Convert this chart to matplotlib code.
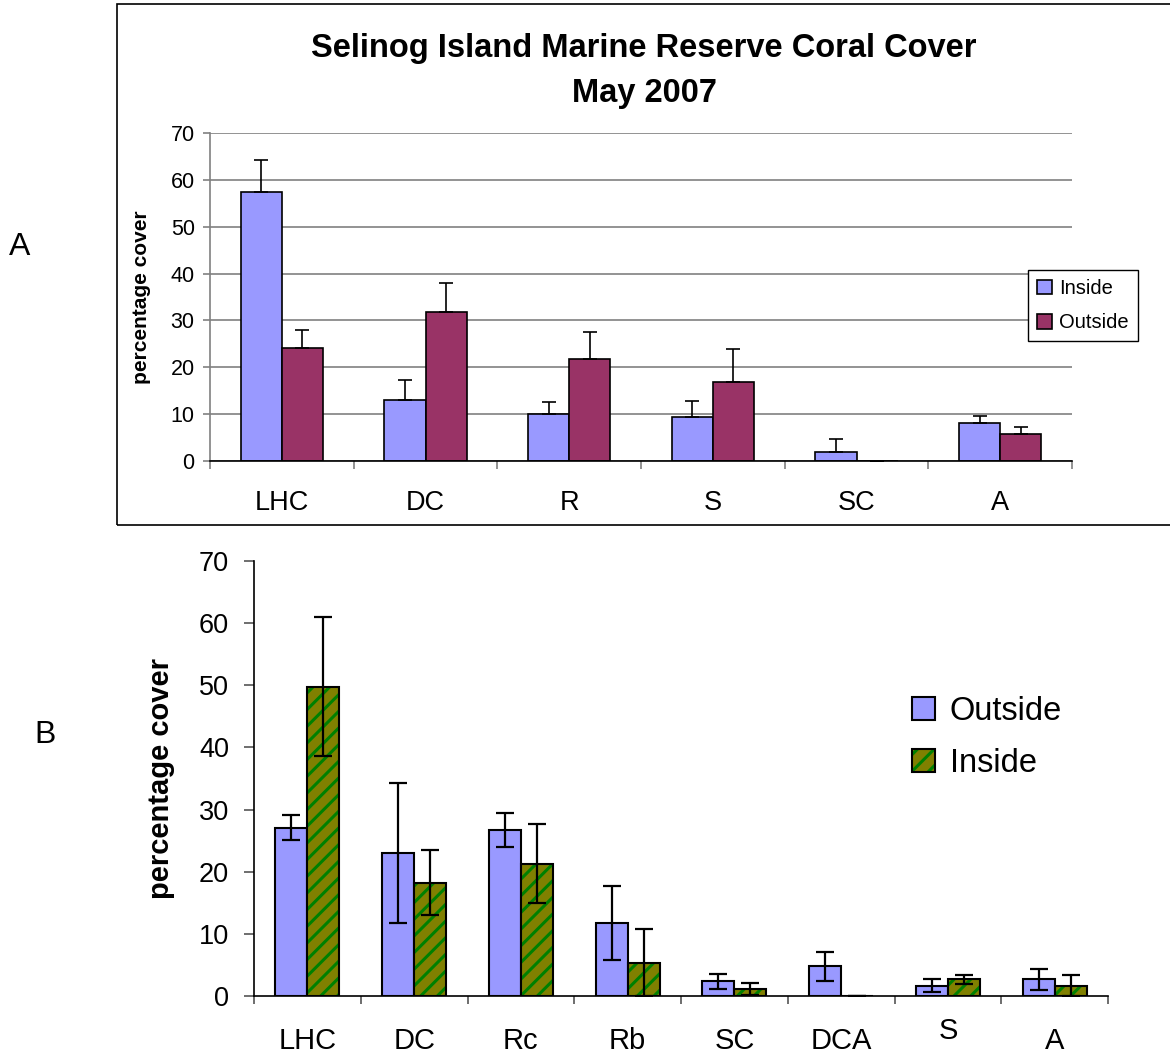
import matplotlib
matplotlib.use('Agg')
import matplotlib.pyplot as plt
from matplotlib.patches import Patch, Rectangle
from matplotlib.legend_handler import HandlerTuple
import numpy as np

plt.rcParams['font.family'] = ['Liberation Sans', 'DejaVu Sans']
plt.rcParams['hatch.linewidth'] = 2.2

# panel A data
cats_a = ['LHC', 'DC', 'R', 'S', 'SC', 'A']
inside_a = [57.5, 13.1, 10.0, 9.3, 1.85, 8.2]
inside_a_err = [6.8, 4.1, 2.5, 3.6, 2.8, 1.5]
outside_a = [24.2, 31.8, 21.8, 16.8, 0.0, 5.75]
outside_a_err = [3.7, 6.1, 5.8, 7.2, 0.0, 1.4]

# panel B data
cats_b = ['LHC', 'DC', 'Rc', 'Rb', 'SC', 'DCA', 'S', 'A']
outside_b = [27.1, 23.0, 26.75, 11.8, 2.4, 4.75, 1.66, 2.67]
outside_b_err = [2.0, 11.2, 2.7, 5.95, 1.2, 2.35, 1.0, 1.7]
inside_b = [49.8, 18.25, 21.3, 5.35, 1.07, 0.0, 2.67, 1.66]
inside_b_err = [11.2, 5.25, 6.4, 5.4, 0.95, 0.0, 0.7, 1.7]

yticks = [0, 10, 20, 30, 40, 50, 60, 70]

W, H = 1170, 1055
fig = plt.figure(figsize=(W / 100, H / 100), dpi=100)

# frame round panel A
fig.patches.append(Rectangle((117 / W, 1 - 525 / H), 1060 / W, 521 / H,
                             transform=fig.transFigure, fill=False,
                             edgecolor='black', linewidth=1.2))

fig.text(644 / W, 1 - 71 / H, 'Selinog Island Marine Reserve Coral Cover\nMay 2007',
         ha='center', va='center', fontsize=23.5, fontweight='bold', linespacing=1.55)
fig.text(20 / W, 1 - 247 / H, 'A', ha='center', va='center', fontsize=23)
fig.text(45 / W, 1 - 735 / H, 'B', ha='center', va='center', fontsize=23)

# ---- panel A
ax1 = fig.add_axes([210 / W, 1 - 461 / H, 862 / W, 328 / H])
xa = np.arange(len(cats_a))
wa = 1 / 3.5
ax1.bar(xa - wa / 2, inside_a, wa, color='#9999FF', edgecolor='black', linewidth=1.2, zorder=2,
        label='Inside')
ax1.bar(xa + wa / 2, outside_a, wa, color='#993366', edgecolor='black', linewidth=1.2, zorder=2,
        label='Outside')
ax1.errorbar(xa - wa / 2, inside_a, yerr=[np.zeros(len(xa)), inside_a_err], fmt='none',
             ecolor='black', elinewidth=1.2, capsize=4.7, capthick=1.2, zorder=3)
ax1.errorbar(xa + wa / 2, outside_a, yerr=[np.zeros(len(xa)), outside_a_err], fmt='none',
             ecolor='black', elinewidth=1.2, capsize=4.7, capthick=1.2, zorder=3)
ax1.set_xlim(-0.5, len(cats_a) - 0.5)
ax1.set_ylim(0, 70)
ax1.set_yticks(yticks)
ax1.yaxis.grid(True, color='#808080', linewidth=1.2, zorder=0)
ax1.set_axisbelow(True)
ax1.set_xticks(np.arange(len(cats_a) + 1) - 0.5)
ax1.set_xticklabels([''] * (len(cats_a) + 1))
ax1.set_xticks(xa, minor=True)
ax1.set_xticklabels(cats_a, minor=True, fontsize=19.5)
ax1.tick_params(axis='x', which='major', length=6, width=1.2, color='#808080')
ax1.tick_params(axis='x', which='minor', length=0, pad=21)
ax1.tick_params(axis='y', length=5, width=1.2, color='#808080', labelsize=15.5, pad=6)
for s in ['top', 'right']:
    ax1.spines[s].set_visible(False)
ax1.spines['left'].set_color('#808080')
ax1.spines['left'].set_linewidth(1.2)
ax1.spines['bottom'].set_linewidth(1.2)
ax1.set_ylabel('percentage cover', fontsize=15, fontweight='bold', labelpad=14)
ax1.legend(loc='upper left', bbox_to_anchor=(1028 / W, 1 - 270 / H), bbox_transform=fig.transFigure,
           fontsize=14.5, frameon=True, fancybox=False, edgecolor='black', framealpha=1,
           handlelength=0.75, handleheight=0.75, handletextpad=0.35, borderpad=0.45,
           labelspacing=0.75, borderaxespad=0)
ax1.get_legend().get_frame().set_linewidth(1.0)

# ---- panel B
ax2 = fig.add_axes([254 / W, 1 - 996 / H, 854 / W, 435 / H])
xb = np.arange(len(cats_b))
wb = 0.3
ax2.bar(xb - wb / 2, outside_b, wb, color='#9999FF', edgecolor='black', linewidth=1.5, zorder=2)
ax2.bar(xb + wb / 2, inside_b, wb, color='#808000', edgecolor='#008000', hatch='//',
        linewidth=0, zorder=2)
ax2.bar(xb + wb / 2, inside_b, wb, fill=False, edgecolor='black', linewidth=1.5, zorder=2)
ax2.errorbar(xb - wb / 2, outside_b, yerr=outside_b_err, fmt='none', ecolor='black',
             elinewidth=1.6, capsize=6.5, capthick=1.6, zorder=3)
ax2.errorbar(xb + wb / 2, inside_b, yerr=inside_b_err, fmt='none', ecolor='black',
             elinewidth=1.6, capsize=6.5, capthick=1.6, zorder=3)
ax2.set_xlim(-0.5, len(cats_b) - 0.5)
ax2.set_ylim(0, 70)
ax2.set_yticks(yticks)
ax2.set_xticks(np.arange(len(cats_b) + 1) - 0.5)
ax2.set_xticklabels([''] * (len(cats_b) + 1))
ax2.set_xticks(xb, minor=True)
ax2.set_xticklabels(cats_b, minor=True, fontsize=21)
ax2.tick_params(axis='x', which='major', length=6, width=1.2, color='#555555')
ax2.tick_params(axis='x', which='minor', length=0, pad=22)
ax2.tick_params(axis='y', length=7, width=1.2, color='#555555', labelsize=19.5, pad=11)
for s in ['top', 'right']:
    ax2.spines[s].set_visible(False)
ax2.spines['left'].set_linewidth(1.2)
ax2.spines['bottom'].set_linewidth(1.2)
ax2.set_ylabel('percentage cover', fontsize=21, fontweight='bold', labelpad=17)
ax2.get_xticklabels(minor=True)[6].set_y(0.022)

h_out = Patch(facecolor='#9999FF', edgecolor='black', linewidth=1.5)
h_in = (Patch(facecolor='#808000', edgecolor='#008000', hatch='//', linewidth=0),
        Patch(fill=False, edgecolor='black', linewidth=1.5))
ax2.legend([h_out, h_in], ['Outside', 'Inside'], handler_map={tuple: HandlerTuple(ndivide=1, pad=0)},
           loc='upper left', bbox_to_anchor=(912 / W, 1 - 696 / H), bbox_transform=fig.transFigure,
           fontsize=23.5, frameon=False, handlelength=0.7, handleheight=0.7, handletextpad=0.45,
           labelspacing=0.65, borderaxespad=0, borderpad=0)

fig.savefig('out.png', dpi=100)
